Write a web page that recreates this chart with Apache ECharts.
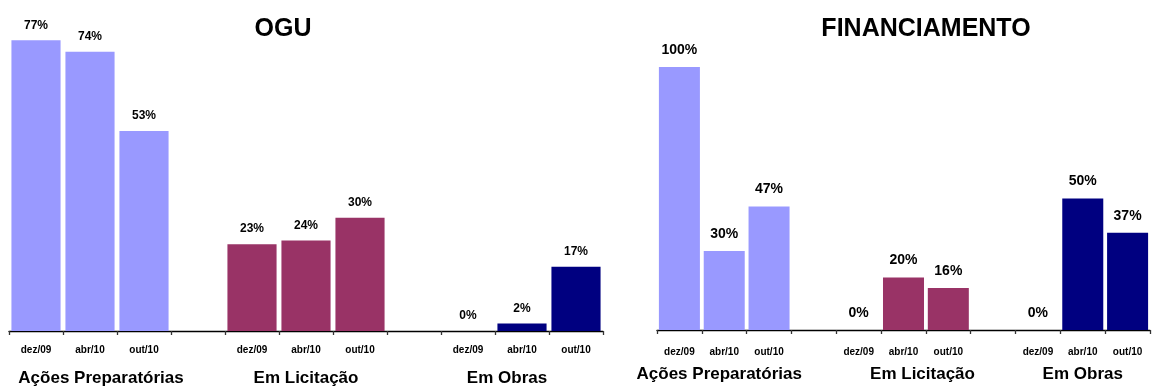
<!DOCTYPE html>
<html>
<head>
<meta charset="utf-8">
<script src="https://cdn.jsdelivr.net/npm/echarts@6/dist/echarts.min.js"></script>
<style>html,body{margin:0;padding:0;background:#fff}#c{width:1157px;height:387px}</style>
</head>
<body>
<div id="c"></div>
<script>
var months = ['dez/09', 'abr/10', 'out/10'];
var groups = ['Ações Preparatórias', 'Em Licitação', 'Em Obras'];
var ogu = { acoes: [77, 74, 53], licitacao: [23, 24, 30], obras: [0, 2, 17] };
var fin = { acoes: [100, 30, 47], licitacao: [0, 20, 16], obras: [0, 50, 37] };
var colors = ['#9999FF', '#993366', '#000080'];
var titles = ['OGU', 'FINANCIAMENTO'];

var FONT = '"Liberation Sans", Arial, sans-serif';
// 11 slots: 3 months, gap, 3 months, gap, 3 months
function buildCats() {
  var out = [];
  for (var g = 0; g < 3; g++) {
    for (var m = 0; m < 3; m++) out.push(months[m]);
    if (g < 2) out.push('');
  }
  return out;
}
function buildGroupCats() {
  var out = [];
  for (var i = 0; i < 11; i++) out.push('');
  for (var g = 0; g < 3; g++) out[g * 4 + 1] = groups[g];
  return out;
}
function seriesFor(vals, g) {
  var out = [];
  for (var i = 0; i < 11; i++) out.push('-');
  for (var m = 0; m < 3; m++) out[g * 4 + m] = vals[m];
  return out;
}
var cats = buildCats();
var groupCats = buildGroupCats();

function makeSeries(dataObj, idx, labelSize, labelDist, gap) {
  var keys = ['acoes', 'licitacao', 'obras'];
  return keys.map(function (k, g) {
    return {
      type: 'bar',
      xAxisIndex: idx * 2,
      yAxisIndex: idx,
      stack: 'c' + idx,
      barCategoryGap: gap,
      data: seriesFor(dataObj[k], g),
      itemStyle: { color: colors[g] },
      label: {
        show: true, position: 'top', distance: labelDist,
        formatter: '{c}%', color: '#000', fontWeight: 'bold',
        fontSize: labelSize, fontFamily: FONT
      },
      animation: false
    };
  });
}

function groupAxis(gridIdx, margin, rich) {
  return {
    type: 'category', gridIndex: gridIdx, position: 'bottom', data: groupCats,
    axisLine: { show: false }, axisTick: { show: false },
    axisLabel: {
      interval: 0, margin: margin,
      formatter: function (v) {
        var i = groups.indexOf(v);
        return i < 0 ? '' : '{g' + i + '|' + v + '}';
      },
      rich: rich
    }
  };
}
function gstyle(padL, padR) {
  return { fontSize: 17, fontWeight: 'bold', color: '#000', fontFamily: FONT, padding: [0, padR, 0, padL] };
}
function monthAxis(gridIdx, margin) {
  return {
    type: 'category', gridIndex: gridIdx, data: cats, position: 'bottom',
    axisLine: { show: true, lineStyle: { color: '#000', width: 1.3 } },
    axisTick: { show: true, interval: 0, alignWithLabel: false, length: 4, inside: false,
      lineStyle: { color: '#333', width: 1.3 } },
    axisLabel: { interval: 0, margin: margin, fontSize: 10, fontWeight: 'bold', color: '#000', fontFamily: FONT }
  };
}

var option = {
  backgroundColor: '#fff',
  animation: false,
  title: [
    { text: titles[0], left: 283, top: 17, textAlign: 'center', padding: 0,
      textStyle: { fontSize: 25, fontWeight: 'bold', color: '#000', fontFamily: FONT } },
    { text: titles[1], left: 926, top: 17, textAlign: 'center', padding: 0,
      textStyle: { fontSize: 25, fontWeight: 'bold', color: '#000', fontFamily: FONT } }
  ],
  grid: [
    { left: 9, right: 554, top: 29, bottom: 56 },
    { left: 657, right: 7, top: 67, bottom: 57 }
  ],
  xAxis: [
    monthAxis(0, 14),
    groupAxis(0, 39, { g0: gstyle(22, 0), g1: gstyle(0, 0), g2: gstyle(0, 30) }),
    monthAxis(1, 17),
    groupAxis(1, 36, { g0: gstyle(0, 10), g1: gstyle(38, 0), g2: gstyle(0, 0) })
  ],
  yAxis: [
    { type: 'value', gridIndex: 0, min: 0, max: 80, show: false },
    { type: 'value', gridIndex: 1, min: 0, max: 100, show: false }
  ],
  series: makeSeries(ogu, 0, 12, 9, '9%').concat(makeSeries(fin, 1, 14, 10, '8.5%'))
};
var chart = echarts.init(document.getElementById('c'), null, { renderer: 'canvas' });
chart.setOption(option);
</script>
</body>
</html>
